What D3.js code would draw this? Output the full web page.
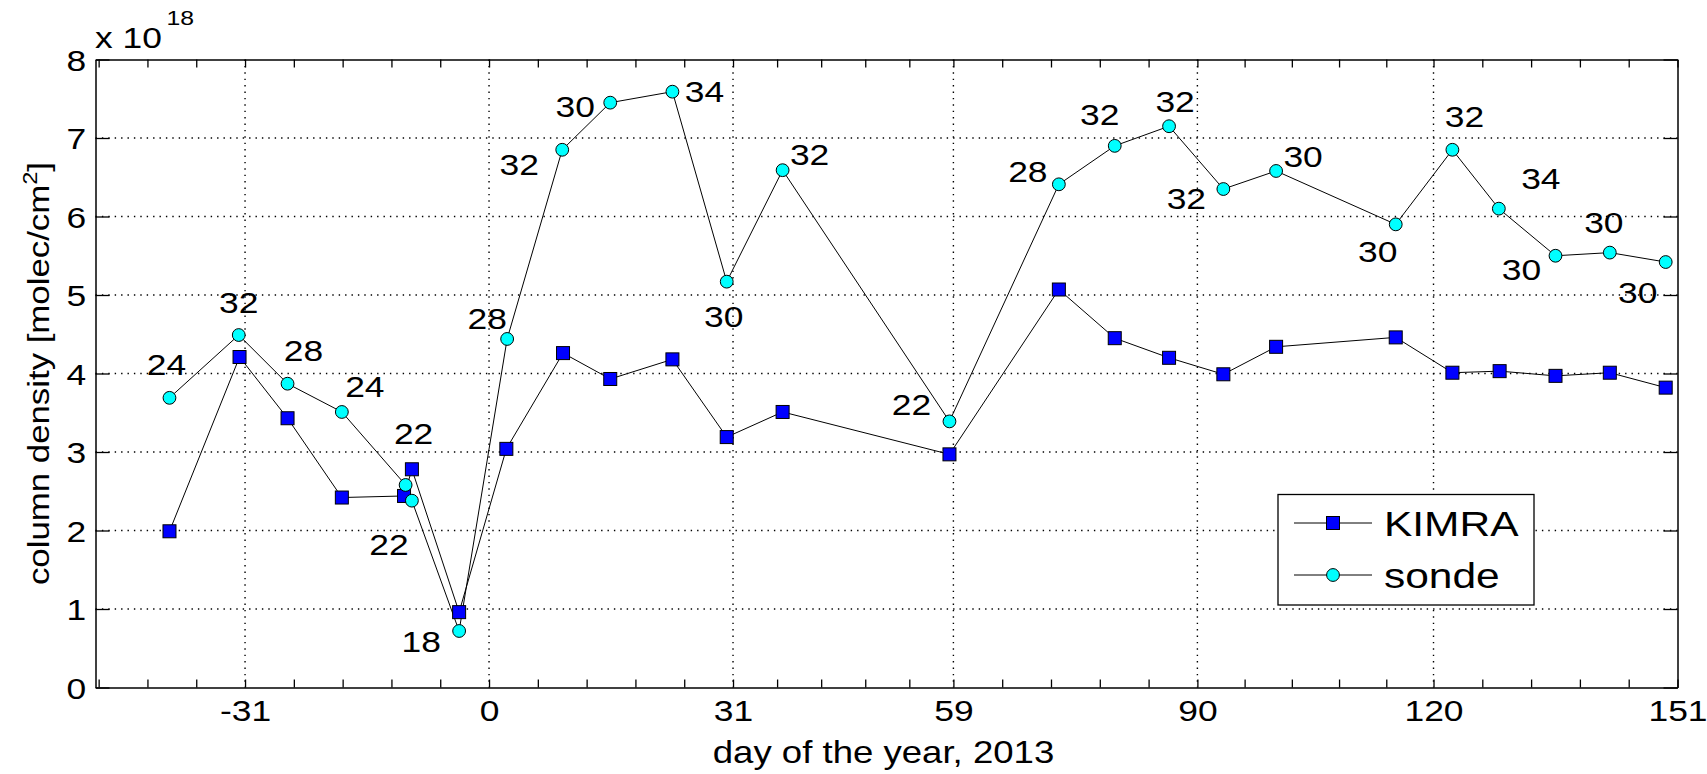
<!DOCTYPE html>
<html>
  <head>
    <meta charset="utf-8" />
    <title>KIMRA vs sonde column density</title>
    <script src="https://cdn.jsdelivr.net/npm/d3@7"></script>
    <style>
      body { margin: 0; background: #fff; }
      text { font-family: "Liberation Sans", Arial, Helvetica, sans-serif; fill: #000; }
    </style>
  </head>
  <body>
    <svg width="1707" height="774" id="mainsvg"></svg>
    <script>
      // ---- data (day of year 2013, column density in 1e18 molec/cm2) ----
      const kimraDay = [-40.6, -31.7, -25.6, -18.7, -10.8, -9.8, -3.8, 2.2, 9.4, 15.4, 23.3, 30.2, 37.3, 58.5,
                        72.4, 79.5, 86.4, 93.3, 100.0, 115.2, 122.4, 128.4, 135.5, 142.4, 149.5];
      const kimraVal = [1.99, 4.21, 3.43, 2.42, 2.44, 2.78, 0.96, 3.04, 4.26, 3.93, 4.18, 3.19, 3.51, 2.97,
                        5.07, 4.45, 4.20, 3.99, 4.34, 4.46, 4.01, 4.03, 3.97, 4.01, 3.82];
      const sondeDay = [-40.6, -31.8, -25.6, -18.7, -10.6, -9.8, -3.8, 2.3, 9.3, 15.4, 23.3, 30.2, 37.3, 58.5,
                        72.4, 79.5, 86.4, 93.3, 100.0, 115.2, 122.4, 128.3, 135.5, 142.4, 149.5];
      const sondeVal = [3.69, 4.49, 3.87, 3.51, 2.58, 2.38, 0.72, 4.44, 6.85, 7.45, 7.59, 5.17, 6.59, 3.39,
                        6.41, 6.90, 7.15, 6.35, 6.58, 5.90, 6.85, 6.10, 5.50, 5.54, 5.42];
      const sondeLabel = [24, 32, 28, 24, 22, 22, 18, 28, 32, 30, 34, 30, 32, 22,
                          28, 32, 32, 32, 30, 30, 32, 34, 30, 30, 30];
      const monthTicks = [-31, 0, 31, 59, 90, 120, 151];
      const yTicks = [0, 1, 2, 3, 4, 5, 6, 7, 8];
      const seriesNames = ["KIMRA", "sonde"];

      const svg = d3.select("#mainsvg");
      const width = +svg.attr("width");
      const height = +svg.attr("height");
      const margin = { left: 95.5, top: 59.5, right: 29.5, bottom: 86.5 };
      const innerWidth = width - margin.left - margin.right;
      const innerHeight = height - margin.top - margin.bottom;
      const STRETCH = 1.18; // the original glyphs are wider than Arial

      const g = svg.append("g").attr("transform", `translate(${margin.left}, ${margin.top})`);

      const x = d3.scaleLinear().domain([-50, 151]).range([0, innerWidth]);
      const y = d3.scaleLinear().domain([0, 8]).range([innerHeight, 0]);

      // ticks at month starts, every month split in 5
      const xTickVals = [];
      for (let k = 3; k >= 1; k--) xTickVals.push(monthTicks[0] - (k * (monthTicks[1] - monthTicks[0])) / 5);
      monthTicks.forEach((d, i) => {
        xTickVals.push(d);
        const next = monthTicks[i + 1];
        if (next === undefined) return;
        for (let k = 1; k < 5; k++) xTickVals.push(d + (k * (next - d)) / 5);
      });

      // dotted grid
      const grid = g.append("g").attr("stroke", "#000").attr("stroke-width", 1.4).attr("stroke-dasharray", "1.4 5");
      grid.selectAll(".vgrid")
        .data(monthTicks.slice(0, -1))
        .join("line")
        .attr("x1", (d) => x(d)).attr("x2", (d) => x(d))
        .attr("y1", 0).attr("y2", innerHeight);
      grid.selectAll(".hgrid")
        .data(yTicks.slice(1, -1))
        .join("line")
        .attr("x1", 0).attr("x2", innerWidth)
        .attr("y1", (d) => y(d)).attr("y2", (d) => y(d));

      // series
      const kimra = kimraDay.map((d, i) => ({ day: d, v: kimraVal[i] }));
      const sonde = sondeDay.map((d, i) => ({ day: d, v: sondeVal[i], label: sondeLabel[i] }));
      const line = d3.line().x((d) => x(d.day)).y((d) => y(d.v));

      g.append("path").datum(kimra).attr("d", line).attr("fill", "none").attr("stroke", "#000").attr("stroke-width", 1);
      g.append("path").datum(sonde).attr("d", line).attr("fill", "none").attr("stroke", "#000").attr("stroke-width", 1);

      const sq = 13;
      g.selectAll(".kimraPt")
        .data(kimra)
        .join("rect")
        .attr("x", (d) => x(d.day) - sq / 2)
        .attr("y", (d) => y(d.v) - sq / 2)
        .attr("width", sq).attr("height", sq)
        .attr("fill", "#0000ff").attr("stroke", "#000").attr("stroke-width", 1);

      g.selectAll(".sondePt")
        .data(sonde)
        .join("circle")
        .attr("cx", (d) => x(d.day))
        .attr("cy", (d) => y(d.v))
        .attr("r", 6.4)
        .attr("fill", "#00ffff").attr("stroke", "#000").attr("stroke-width", 1);

      // where each sonde label sits relative to its point (px)
      const labelOffsets = [
        [-3, -34], [0, -33], [16, -34], [23, -26], [8, -52], [-23, 44], [-38, 10], [-20, -21],
        [-43, 14], [-35, 4], [32, 0], [-3, 35], [27, -16], [-38, -17],
        [-31, -13], [-15, -32], [6, -25], [-37, 9], [27, -15], [-18, 27], [12, -34],
        [42, -30], [-34, 13], [-6, -30], [-28, 30],
      ];
      g.selectAll(".sondeLabel")
        .data(sonde)
        .join("text")
        .attr("text-anchor", "middle")
        .attr("dy", "0.36em")
        .attr("font-size", 30)
        .attr("transform", (d, i) =>
          `translate(${x(d.day) + labelOffsets[i][0]}, ${y(d.v) + labelOffsets[i][1]}) scale(${STRETCH},1)`)
        .text((d) => d.label);

      // axes, MATLAB style box with inward ticks
      const styleAxis = (sel) => {
        sel.attr("font-size", 30).attr("font-family", null);
        sel.select(".domain").attr("stroke", "#000").attr("stroke-width", 1.5);
        sel.selectAll(".tick line").attr("stroke", "#000").attr("stroke-width", 1.3);
        sel.selectAll(".tick text").attr("transform", `scale(${STRETCH},1)`);
        sel.selectAll(".tick text").filter(function () { return this.textContent === ""; }).remove();
      };

      g.append("g")
        .attr("transform", `translate(0, ${innerHeight})`)
        .call(d3.axisBottom(x).tickValues(xTickVals).tickSizeInner(-8).tickSizeOuter(0).tickPadding(12)
          .tickFormat((d) => (monthTicks.includes(d) ? String(d) : "")))
        .call(styleAxis);
      g.append("g")
        .call(d3.axisTop(x).tickValues(xTickVals).tickSizeInner(-8).tickSizeOuter(0).tickFormat(""))
        .call(styleAxis);
      g.append("g")
        .call(d3.axisLeft(y).tickValues(yTicks).tickSizeInner(-14).tickSizeOuter(0).tickPadding(8)
          .tickFormat((d) => String(d)))
        .call(styleAxis)
        .selectAll(".tick text").attr("dy", "0.36em");
      g.append("g")
        .attr("transform", `translate(${innerWidth}, 0)`)
        .call(d3.axisRight(y).tickValues(yTicks).tickSizeInner(-14).tickSizeOuter(0).tickFormat(""))
        .call(styleAxis);

      // axis titles
      svg.append("text")
        .attr("text-anchor", "middle")
        .attr("font-size", 31)
        .attr("transform", `translate(${margin.left + innerWidth / 2 - 3}, 763) scale(${STRETCH},1)`)
        .text("day of the year, 2013");

      const yTitle = svg.append("text")
        .attr("text-anchor", "middle")
        .attr("font-size", 29.5)
        .attr("transform", `translate(49, ${margin.top + innerHeight / 2}) rotate(-90) scale(${STRETCH},1)`);
      yTitle.append("tspan").text("column density [molec/cm");
      yTitle.append("tspan").attr("font-size", 20).attr("dy", -12).text("2");
      yTitle.append("tspan").attr("dy", 12).text("]");

      // exponent note
      const expo = svg.append("text")
        .attr("font-size", 30)
        .attr("transform", `translate(95, 48.3) scale(${STRETCH},1)`);
      expo.append("tspan").text("x 10");
      expo.append("tspan").attr("font-size", 21).attr("dx", 4).attr("dy", -23.3).text("18");

      // legend
      const legend = svg.append("g").attr("transform", "translate(1278, 494.5)");
      legend.append("rect")
        .attr("width", 256).attr("height", 110.5)
        .attr("fill", "#fff").attr("stroke", "#000").attr("stroke-width", 1.3);
      const rows = legend.selectAll(".row")
        .data(seriesNames)
        .join("g")
        .attr("transform", (d, i) => `translate(0, ${28.5 + i * 52})`);
      rows.append("line").attr("x1", 16).attr("x2", 94).attr("stroke", "#000").attr("stroke-width", 1);
      rows.filter((d, i) => i === 0).append("rect")
        .attr("x", 55 - sq / 2).attr("y", -sq / 2).attr("width", sq).attr("height", sq)
        .attr("fill", "#0000ff").attr("stroke", "#000").attr("stroke-width", 1);
      rows.filter((d, i) => i === 1).append("circle")
        .attr("cx", 55).attr("r", 6.4)
        .attr("fill", "#00ffff").attr("stroke", "#000").attr("stroke-width", 1);
      rows.append("text")
        .attr("font-size", 36)
        .attr("dy", "0.36em")
        .attr("transform", `translate(106, 0) scale(${STRETCH},1)`)
        .text((d) => d);
    </script>
  </body>
</html>
